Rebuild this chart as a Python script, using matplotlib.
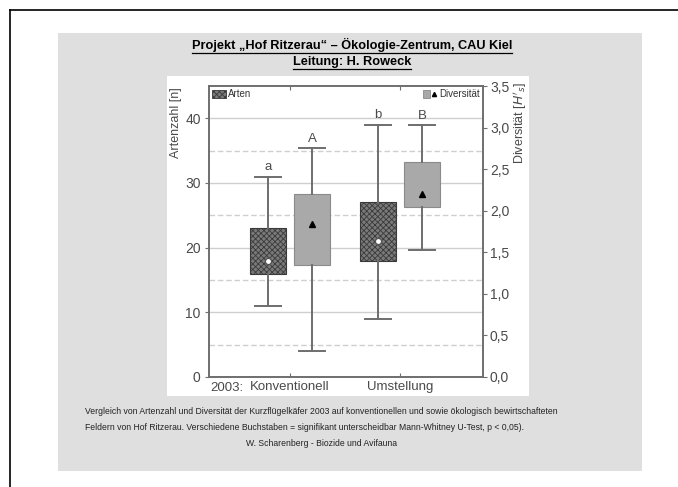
import matplotlib
matplotlib.use("Agg")
import matplotlib.pyplot as plt
from matplotlib.patches import Rectangle, Patch
from matplotlib.lines import Line2D
from matplotlib.legend_handler import HandlerTuple

plt.rcParams['font.family'] = ['Liberation Sans', 'DejaVu Sans']
plt.rcParams['hatch.linewidth'] = 0.6

# data
groups = ["Konventionell", "Umstellung"]
year = "2003:"

# Artenzahl [n]
arten_min = [11, 9]
arten_q1 = [16, 18]
arten_mid = [18, 21]
arten_q3 = [23, 27]
arten_max = [31, 39]
arten_letters = ["a", "b"]

# Diversitaet [H's]
div_min = [0.31, 1.53]
div_q1 = [1.35, 2.05]
div_mid = [1.84, 2.20]
div_q3 = [2.20, 2.59]
div_max = [2.75, 3.03]
div_letters = ["A", "B"]

left_ticks = [0, 10, 20, 30, 40]
left_minor = [5, 15, 25, 35]
right_ticks = [0.0, 0.5, 1.0, 1.5, 2.0, 2.5, 3.0, 3.5]

title1 = "Projekt \u201eHof Ritzerau\u201c \u2013 \u00d6kologie-Zentrum, CAU Kiel"
title2 = "Leitung: H. Roweck"
caption1 = ("Vergleich von Artenzahl und Diversit\u00e4t der Kurzfl\u00fcgelk\u00e4fer 2003 auf "
            "konventionellen und sowie \u00f6kologisch bewirtschafteten")
caption2 = ("Feldern von Hof Ritzerau. Verschiedene Buchstaben = signifikant unterscheidbar "
            "Mann-Whitney U-Test, p < 0,05).")
caption3 = "W. Scharenberg - Biozide und Avifauna"

W, H = 678, 487
fig = plt.figure(figsize=(W / 100, H / 100), dpi=100)
fig.patch.set_facecolor("white")

def fx(x):
    return x / W

def fy(y):
    return 1 - y / H

# outer frame, grey panel, white chart area (behind the axes)
fig.add_artist(Line2D([fx(9.5), 1.0], [fy(10), fy(10)], color="black", lw=1.2, zorder=-3))
fig.add_artist(Line2D([fx(9.5), fx(9.5)], [fy(10), 0.0], color="black", lw=1.2, zorder=-3))
fig.add_artist(Rectangle((fx(58), fy(471)), fx(642 - 58), (471 - 33) / H,
                         facecolor="#dfdfdf", edgecolor="none", zorder=-2))
fig.add_artist(Rectangle((fx(167), fy(396)), fx(529 - 167), (396 - 76) / H,
                         facecolor="white", edgecolor="none", zorder=-1))

# titles
t1 = fig.text(fx(352), fy(45), title1, ha="center", va="center",
              fontsize=9.2, fontweight="bold")
t2 = fig.text(fx(352), fy(62), title2, ha="center", va="center",
              fontsize=9.2, fontweight="bold")

# captions
fig.text(fx(85), fy(411), caption1, ha="left", va="center", fontsize=6.25, color="#222222")
fig.text(fx(85), fy(427), caption2, ha="left", va="center", fontsize=6.25, color="#222222")
fig.text(fx(322), fy(443), caption3, ha="center", va="center", fontsize=6.25, color="#222222")

# axes
ax = fig.add_axes([fx(209), fy(377), fx(483 - 209), (377 - 86) / H])
ax2 = ax.twinx()

axis_col = "#6e6e6e"
txt_col = "#4a4a4a"

centers = [1, 2]
off = 0.2
pos_arten = [c - off for c in centers]
pos_div = [c + off for c in centers]

def make_stats(lo, q1, mid, q3, hi):
    return [dict(whislo=lo[i], q1=q1[i], med=mid[i], q3=q3[i], whishi=hi[i],
                 mean=mid[i], fliers=[]) for i in range(len(lo))]

common = dict(patch_artist=True, showmeans=True, widths=0.33, capwidths=0.23,
              manage_ticks=False,
              whiskerprops=dict(color=axis_col, lw=1.4),
              capprops=dict(color=axis_col, lw=1.4),
              medianprops=dict(lw=0))

ax.bxp(make_stats(arten_min, arten_q1, arten_mid, arten_q3, arten_max),
       positions=pos_arten,
       boxprops=dict(facecolor="#7a7a7a", edgecolor="#3a3a3a", hatch="xxxxxx", lw=0.8),
       meanprops=dict(marker="o", markerfacecolor="white", markeredgecolor="#555555",
                      markersize=4.5),
       **common)
ax2.bxp(make_stats(div_min, div_q1, div_mid, div_q3, div_max),
        positions=pos_div,
        boxprops=dict(facecolor="#a9a9a9", edgecolor="#8a8a8a", lw=0.8),
        meanprops=dict(marker="^", markerfacecolor="black", markeredgecolor="black",
                       markersize=4.5),
        **common)

for p, v, s in zip(pos_arten, arten_max, arten_letters):
    ax.text(p, v + 0.6, s, ha="center", va="bottom", fontsize=9.5, color=txt_col)
for p, v, s in zip(pos_div, div_max, div_letters):
    ax2.text(p, v + 0.04, s, ha="center", va="bottom", fontsize=9.5, color=txt_col)

ax.set_xlim(0.262, 2.755)
ax.set_ylim(0, 45)
ax2.set_ylim(0, 3.5)

ax.set_yticks(left_ticks)
ax.set_yticks(left_minor, minor=True)
ax.grid(axis="y", which="major", color="#cfcfcf", lw=1.0)
ax.grid(axis="y", which="minor", color="#cfcfcf", lw=1.0, ls=(0, (4, 2)))
ax.set_axisbelow(True)

ax2.set_yticks(right_ticks)
ax2.set_yticklabels([f"{v:.1f}".replace(".", ",") for v in right_ticks])

ax.set_xticks(centers)
ax.set_xticklabels(groups)
ax.tick_params(axis="x", direction="in", length=3, top=True, pad=3,
               labelsize=9.5, colors=axis_col, labelcolor=txt_col)
ax.tick_params(axis="y", which="major", direction="out", length=3, pad=3,
               labelsize=10, colors=axis_col, labelcolor=txt_col)
ax.tick_params(axis="y", which="minor", length=0)
ax2.tick_params(axis="y", direction="out", length=3, pad=2,
                labelsize=10, colors=axis_col, labelcolor=txt_col)
ax.text(0.005, -0.018, year, transform=ax.transAxes, ha="left", va="top",
        fontsize=9.5, color=txt_col)

for a in (ax, ax2):
    for sp in a.spines.values():
        sp.set_color(axis_col)
        sp.set_linewidth(1.2)

ax.set_ylabel("Artenzahl [n]", fontsize=9, color=txt_col)
ax.yaxis.set_label_coords(-0.097, 0.873)
ax2.set_ylabel("Diversit\u00e4t [$H'_s$]", fontsize=9, color=txt_col, rotation=90)
ax2.yaxis.set_label_coords(1.105, 0.873)

# legends
h_arten = Patch(facecolor="#7a7a7a", edgecolor="#3a3a3a", hatch="xxxxxx", lw=0.6)
leg1 = ax.legend([h_arten], ["Arten"], loc="upper left", frameon=False,
                 fontsize=7, handlelength=1.4, handleheight=0.9,
                 handletextpad=0.2, borderaxespad=0.15, borderpad=0.2)
for t in leg1.get_texts():
    t.set_color("#333333")
h_div = (Patch(facecolor="#a9a9a9", edgecolor="#8a8a8a", lw=0.6),
         Line2D([], [], ls="none", marker="^", color="black", markersize=3))
leg2 = ax2.legend([h_div], ["Diversit\u00e4t"], loc="upper right", frameon=False,
                  fontsize=7, handlelength=1.4, handleheight=0.9,
                  handletextpad=0.2, borderaxespad=0.15, borderpad=0.2,
                  handler_map={tuple: HandlerTuple(ndivide=None, pad=0)})
for t in leg2.get_texts():
    t.set_color("#333333")

# underline the titles
fig.canvas.draw()
rend = fig.canvas.get_renderer()
for t in (t1, t2):
    bb = t.get_window_extent(rend)
    yline = bb.y0 - 0.5
    fig.add_artist(Line2D([bb.x0 / W, bb.x1 / W], [yline / H, yline / H],
                          color="black", lw=0.9))

fig.savefig("out.png", dpi=100)
